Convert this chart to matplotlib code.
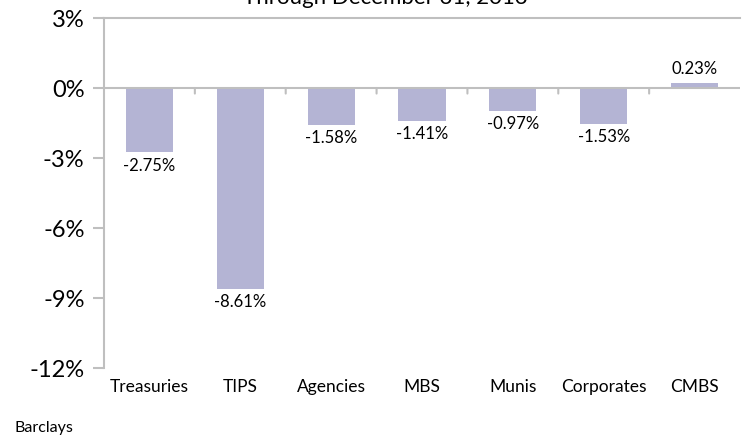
import matplotlib
matplotlib.use("Agg")
import matplotlib.pyplot as plt
from matplotlib.transforms import blended_transform_factory, offset_copy

categories = ["Treasuries", "TIPS", "Agencies", "MBS", "Munis", "Corporates", "CMBS"]
values = [-2.75, -8.61, -1.58, -1.41, -0.97, -1.53, 0.23]
yticks = [3, 0, -3, -6, -9, -12]

plt.rcParams['font.family'] = ['Lato', 'DejaVu Sans']

fig = plt.figure(figsize=(7.5, 4.4), dpi=100)
ax = fig.add_axes([104/750, 1-368/440, (740-104)/750, (368-18)/440])

x = list(range(len(categories)))
ax.bar(x, values, width=0.52, color="#B4B4D4", zorder=2)
for xi, v in zip(x, values):
    if v < 0:
        ax.annotate(f"{v:.2f}%", (xi, v), xytext=(0, -4), textcoords="offset points",
                    ha="center", va="top", fontsize=12)
    else:
        ax.annotate(f"{v:.2f}%", (xi, v), xytext=(0, 4), textcoords="offset points",
                    ha="center", va="bottom", fontsize=12)

ax.set_xlim(-0.5, len(categories) - 0.5)
ax.set_ylim(-12, 3)
ax.set_yticks(yticks)
ax.set_yticklabels([f"{t}%" for t in yticks], fontsize=17)
ax.axhline(0, color="#BFBFBF", lw=1.5, zorder=3)
# category separator ticks hanging below the zero line
for b in [i + 0.5 for i in range(len(categories) - 1)]:
    ax.annotate("", xy=(b, 0), xytext=(0, -4), textcoords="offset points",
                arrowprops=dict(arrowstyle="-", color="#BFBFBF", lw=1.5,
                                shrinkA=0, shrinkB=0), zorder=3)

ax.set_xticks(x)
ax.set_xticklabels(categories, fontsize=12.5)
ax.tick_params(axis="x", length=0, pad=8)
ax.tick_params(axis="y", length=8, width=1.5, color="#BFBFBF", pad=6)
for s in ["right", "bottom"]:
    ax.spines[s].set_visible(False)
for s in ["left", "top"]:
    ax.spines[s].set_color("#BFBFBF")
    ax.spines[s].set_linewidth(1.5)

fig.text(385/750, 1 - 4/440, "Through December 31, 2013", ha="center", va="baseline", fontsize=16)
fig.text(15/750, 1 - 432/440, "Barclays", ha="left", va="baseline", fontsize=11.5)

fig.savefig("out.png", dpi=100)
